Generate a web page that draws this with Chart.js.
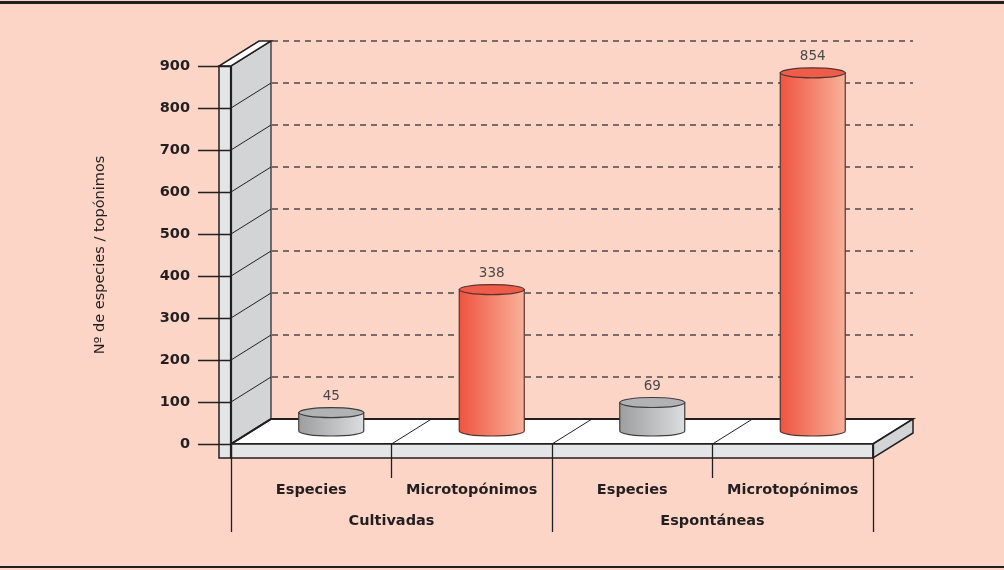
<!DOCTYPE html>
<html><head><meta charset="utf-8">
<script src="https://cdn.jsdelivr.net/npm/chart.js@4/dist/chart.umd.min.js"></script>
<style>html,body{margin:0;padding:0;background:#fdd5c7;}#wrap{width:1004px;height:570px;position:relative;}</style>
</head><body><div id="wrap"><canvas id="c"></canvas></div>
<script>
// ---- data ----
const categories = ['Especies', 'Microtopónimos', 'Especies', 'Microtopónimos'];
const groups = ['Cultivadas', 'Espontáneas'];
const values = [45, 338, 69, 854];
const yMin = 0, yMax = 900, yStep = 100;
const axisTitle = 'Nº de especies / topónimos';

// ---- styles ----
const barStyles = ['grey', 'red', 'grey', 'red'];
const PALETTE = {
  grey: {left: '#9d9ea0', right: '#dcdddf', top: '#b1b2b4', stroke: '#403d3e'},
  red:  {left: '#ee5440', right: '#f9b19a', top: '#f05c4a', stroke: '#553430'}
};
const BG = '#fdd5c7', INK = '#231f20';
const FONT = '"DejaVu Sans", sans-serif';
const DX = 40, DY = -25, FT = 14, WT = 12, RY = 5;

function poly(ctx, pts, fill, stroke, lw) {
  ctx.beginPath();
  ctx.moveTo(pts[0][0], pts[0][1]);
  for (let i = 1; i < pts.length; i++) ctx.lineTo(pts[i][0], pts[i][1]);
  ctx.closePath();
  if (fill) { ctx.fillStyle = fill; ctx.fill(); }
  if (stroke) { ctx.strokeStyle = stroke; ctx.lineWidth = lw; ctx.lineJoin = 'miter'; ctx.stroke(); }
}
function line(ctx, x1, y1, x2, y2, color, lw) {
  ctx.beginPath(); ctx.moveTo(x1, y1); ctx.lineTo(x2, y2);
  ctx.strokeStyle = color; ctx.lineWidth = lw; ctx.stroke();
}

const scene = {
  id: 'scene',
  beforeDraw(chart) {
    const {ctx, chartArea: a, scales: {x, y}} = chart;
    ctx.save();
    ctx.fillStyle = BG; ctx.fillRect(0, 0, chart.width, chart.height);
    ctx.fillStyle = INK; ctx.fillRect(0, 1, chart.width, 3); ctx.fillRect(0, 566, chart.width, 2);
    const y0 = y.getPixelForValue(yMin), yT = y.getPixelForValue(yMax);
    const L = a.left, R = a.right;
    // back wall
    poly(ctx, [[L, yT], [L + DX, yT + DY], [L + DX, y0 + DY], [L, y0]], '#d3d4d6', INK, 1.2);
    // dashed back grid lines
    ctx.setLineDash([6, 5]);
    for (let v = yMin + yStep; v <= yMax; v += yStep) {
      const yy = Math.round(y.getPixelForValue(v) + DY);
      line(ctx, L + DX + 1, yy, R + DX, yy, '#7a6b69', 1.8);
    }
    ctx.setLineDash([]);
    // wall diagonals
    for (let v = yMin + yStep; v < yMax; v += yStep) {
      const yy = y.getPixelForValue(v);
      line(ctx, L, yy, L + DX, yy + DY, INK, 1);
    }
    // floor top
    poly(ctx, [[L, y0], [R, y0], [R + DX, y0 + DY], [L + DX, y0 + DY]], '#ffffff', INK, 1.8);
    for (let i = 1; i < categories.length; i++) {
      const bx = (x.getPixelForValue(i - 1) + x.getPixelForValue(i)) / 2;
      line(ctx, bx, y0, bx + DX, y0 + DY, INK, 1);
    }
    line(ctx, L, y0, L + DX, y0 + DY, INK, 2);
    // floor front & side
    poly(ctx, [[L, y0], [R, y0], [R, y0 + FT], [L, y0 + FT]], '#e4e5e7', INK, 1.5);
    poly(ctx, [[R, y0], [R + DX, y0 + DY], [R + DX, y0 + DY + FT], [R, y0 + FT]], '#d3d4d6', INK, 1.5);
    // wall front face & top
    poly(ctx, [[L - WT, yT], [L, yT], [L, y0 + FT], [L - WT, y0 + FT]], '#e4e5e7', INK, 1.5);
    poly(ctx, [[L - WT, yT], [L, yT], [L + DX, yT + DY], [L - WT + DX, yT + DY]], '#ffffff', INK, 1.5);
    line(ctx, L, yT, L, y0 + FT, INK, 2.2);
    ctx.restore();
  },
  afterDatasetsDraw(chart) {
    const {ctx} = chart;
    const meta = chart.getDatasetMeta(0);
    ctx.save();
    meta.data.forEach((bar, i) => {
      const st = PALETTE[barStyles[i]];
      const cx = bar.x + DX / 2, top = bar.y + DY / 2, base = bar.base + DY / 2, rx = bar.width / 2;
      const g = ctx.createLinearGradient(cx - rx, 0, cx + rx, 0);
      g.addColorStop(0, st.left); g.addColorStop(1, st.right);
      ctx.beginPath();
      ctx.moveTo(cx - rx, top);
      ctx.lineTo(cx - rx, base);
      ctx.ellipse(cx, base, rx, RY, 0, Math.PI, 0, true);
      ctx.lineTo(cx + rx, top);
      ctx.closePath();
      ctx.fillStyle = g; ctx.fill();
      ctx.strokeStyle = st.stroke; ctx.lineWidth = 1.2; ctx.stroke();
      ctx.beginPath();
      ctx.ellipse(cx, top, rx, RY, 0, 0, Math.PI * 2);
      ctx.fillStyle = st.top; ctx.fill();
      ctx.strokeStyle = st.stroke; ctx.lineWidth = 1.2; ctx.stroke();
      ctx.fillStyle = '#4a4748';
      ctx.font = '13.5px ' + FONT;
      ctx.textAlign = 'center'; ctx.textBaseline = 'alphabetic';
      ctx.fillText(String(values[i]), cx, top - 13);
    });
    ctx.restore();
  }
};

new Chart(document.getElementById('c'), {
  type: 'bar',
  data: {
    labels: categories,
    datasets: [{data: values, backgroundColor: 'rgba(0,0,0,0)', borderWidth: 0,
      categoryPercentage: 1, barPercentage: 0.405}]
  },
  options: {
    responsive: true, maintainAspectRatio: false, animation: false,
    devicePixelRatio: 1,
    layout: {padding: {left: 0, right: 131, top: 66, bottom: 0}},
    plugins: {legend: {display: false}, tooltip: {enabled: false}},
    scales: {
      y: {
        min: yMin, max: yMax,
        ticks: {stepSize: yStep, padding: 8, color: INK, font: {family: FONT, size: 14.5, weight: 'bold'}},
        grid: {drawOnChartArea: false, drawTicks: true, tickLength: 33, tickColor: INK, tickWidth: 1.4},
        border: {display: false},
        title: {display: true, text: axisTitle, color: INK, font: {family: FONT, size: 14.5}, padding: {top: 92, bottom: 0}},
        afterFit(s) { s.width = 231; }
      },
      x: {
        offset: true,
        ticks: {padding: -50.5, color: INK, font: {family: FONT, size: 14.5, weight: 'bold'}, maxRotation: 0, autoSkip: false},
        grid: {offset: true, drawOnChartArea: false, drawTicks: true, tickLength: 88, tickColor: INK, tickWidth: 1.3,
          tickBorderDash: (c) => (c.index % 2 === 1 ? [34, 200] : [])},
        border: {display: false},
        afterFit(s) { s.height = 60; }
      },
      x2: {
        type: 'category', position: 'bottom', labels: groups, offset: true, weight: 1,
        ticks: {padding: 8.5, color: INK, font: {family: FONT, size: 14.5, weight: 'bold'}, maxRotation: 0, autoSkip: false},
        grid: {offset: true, drawOnChartArea: false, drawTicks: false},
        border: {display: false},
        afterFit(s) { s.height = 66; }
      }
    }
  },
  plugins: [scene]
});
</script>
</body></html>
